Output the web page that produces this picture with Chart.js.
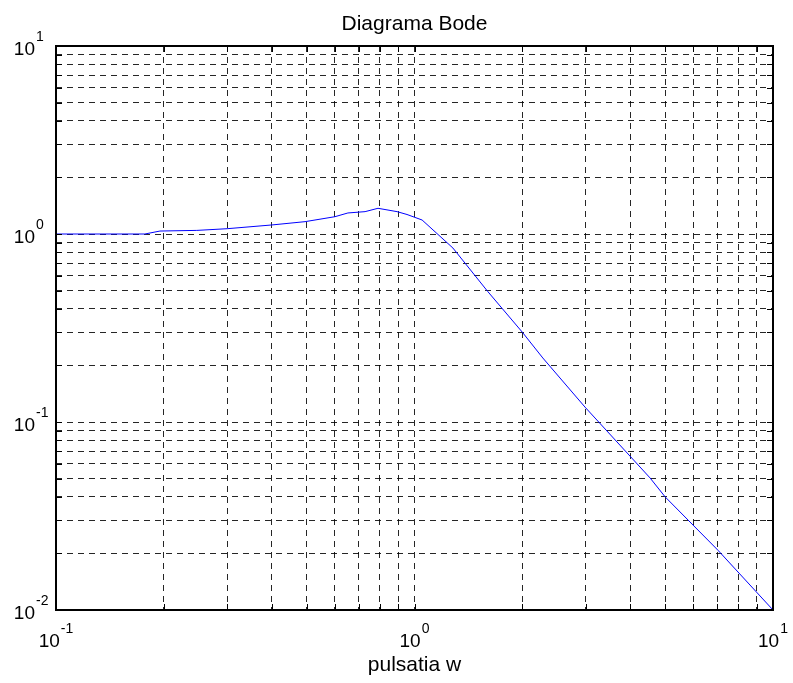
<!DOCTYPE html>
<html>
<head>
<meta charset="utf-8">
<script src="https://cdn.jsdelivr.net/npm/chart.js@4.4.1/dist/chart.umd.min.js"></script>
<style>
    html, body { margin: 0; padding: 0; background: #fff; }
    #wrap { width: 793px; height: 683px; }
</style>
</head>
<body>
<div id="wrap"><canvas id="bodeChart" width="793" height="683"></canvas></div>
<script>
// Date (pulsatie w si modul |H|)
const omega = [0.1, 0.177, 0.195, 0.247, 0.3, 0.4, 0.495, 0.6, 0.652, 0.728, 0.791, 0.894, 0.953, 1.05, 1.28, 1.6, 2.0, 2.28, 2.99, 4.54, 5.0, 7.02, 10];
const modul = [1.0, 1.0, 1.037, 1.045, 1.067, 1.117, 1.163, 1.236, 1.294, 1.315, 1.37, 1.315, 1.27, 1.187, 0.842, 0.495, 0.30, 0.219, 0.12, 0.0504, 0.040, 0.0208, 0.01];

// Decadele de pe axe (etichete 10^n)
const xDecades = [-1, 0, 1];
const yDecades = [-2, -1, 0, 1];

const titlu = 'Diagrama Bode';
const titluX = 'pulsatia w';

const fontFamily = '"Liberation Sans", Arial, sans-serif';

// Toate gradatiile 1..9 x 10^n dintre decade (pentru grila)
function gradatii(decade) {
    const valori = [];
    for (let i = 0; i < decade.length - 1; i++) {
        for (let k = 1; k < 10; k++) valori.push(k * Math.pow(10, decade[i]));
    }
    valori.push(Math.pow(10, decade[decade.length - 1]));
    return valori;
}

// Plugin pentru chenar, gradatii interioare si etichete cu exponent
const bodeDecor = {
    id: 'bodeDecor',
    afterDraw(chart) {
        const ctx = chart.ctx;
        const area = chart.chartArea;
        const sx = chart.scales.x;
        const sy = chart.scales.y;

        ctx.save();
        // gradatii spre interior
        ctx.strokeStyle = '#000';
        ctx.lineWidth = 1;
        ctx.beginPath();
        gradatii(xDecades).forEach(v => {
            const px = Math.round(sx.getPixelForValue(v)) + 0.5;
            ctx.moveTo(px, area.bottom); ctx.lineTo(px, area.bottom - 6);
            ctx.moveTo(px, area.top); ctx.lineTo(px, area.top + 6);
        });
        gradatii(yDecades).forEach(v => {
            const py = Math.round(sy.getPixelForValue(v)) + 0.5;
            ctx.moveTo(area.left, py); ctx.lineTo(area.left + 6, py);
            ctx.moveTo(area.right, py); ctx.lineTo(area.right - 6, py);
        });
        ctx.stroke();

        // chenarul axelor
        ctx.lineWidth = 2;
        ctx.strokeRect(area.left, area.top, area.right - area.left, area.bottom - area.top);

        // etichete 10^n
        ctx.fillStyle = '#000';
        ctx.textBaseline = 'alphabetic';
        const bigFont = '19px ' + fontFamily;
        const smallFont = '14px ' + fontFamily;

        yDecades.forEach(n => {
            const py = sy.getPixelForValue(Math.pow(10, n));
            ctx.font = bigFont;
            ctx.textAlign = 'right';
            ctx.fillText('10', 35, py + 9);
            ctx.font = smallFont;
            ctx.textAlign = 'left';
            ctx.fillText(String(n), 36, py - 5);
        });

        xDecades.forEach(n => {
            const px = sx.getPixelForValue(Math.pow(10, n));
            ctx.font = bigFont;
            const w1 = ctx.measureText('10').width;
            ctx.font = smallFont;
            const w2 = ctx.measureText(String(n)).width;
            const start = px - (w1 + w2 + 1) / 2;
            ctx.textAlign = 'left';
            ctx.font = bigFont;
            ctx.fillText('10', start, 647);
            ctx.font = smallFont;
            ctx.fillText(String(n), start + w1 + 1, 633);
        });

        // titlu si eticheta axei x
        ctx.font = '21px ' + fontFamily;
        ctx.textAlign = 'center';
        const cx = (area.left + area.right) / 2;
        ctx.fillText(titlu, cx, 30);
        ctx.fillText(titluX, cx, 671);
        ctx.restore();
    }
};

const gridStyle = {
    display: true,
    color: 'rgba(0, 0, 0, 0.85)',
    lineWidth: 1,
    drawTicks: false
};

const bodeConfig = {
    type: 'line',
    data: {
        datasets: [{
            label: '|H(jw)|',
            data: omega.map((w, i) => ({ x: w, y: modul[i] })),
            borderColor: 'rgb(0, 0, 255)',
            borderWidth: 1,
            pointRadius: 0,
            tension: 0,
            fill: false
        }]
    },
    options: {
        responsive: false,
        animation: false,
        layout: {
            padding: { left: 56, top: 46, right: 20, bottom: 73 }
        },
        plugins: {
            legend: { display: false },
            tooltip: { enabled: false },
            title: { display: false }
        },
        scales: {
            x: {
                type: 'logarithmic',
                min: 0.1,
                max: 10,
                grid: gridStyle,
                border: { display: false, dash: [6, 5] },
                ticks: { display: false },
                afterBuildTicks: scale => {
                    scale.ticks = gradatii(xDecades).map(v => ({ value: v }));
                },
                afterFit: scale => { scale.height = 0; }
            },
            y: {
                type: 'logarithmic',
                min: 0.01,
                max: 10,
                grid: gridStyle,
                border: { display: false, dash: [6, 5] },
                ticks: { display: false },
                afterBuildTicks: scale => {
                    scale.ticks = gradatii(yDecades).map(v => ({ value: v }));
                },
                afterFit: scale => { scale.width = 0; }
            }
        }
    },
    plugins: [bodeDecor]
};

new Chart(document.getElementById('bodeChart').getContext('2d'), bodeConfig);
</script>
</body>
</html>
